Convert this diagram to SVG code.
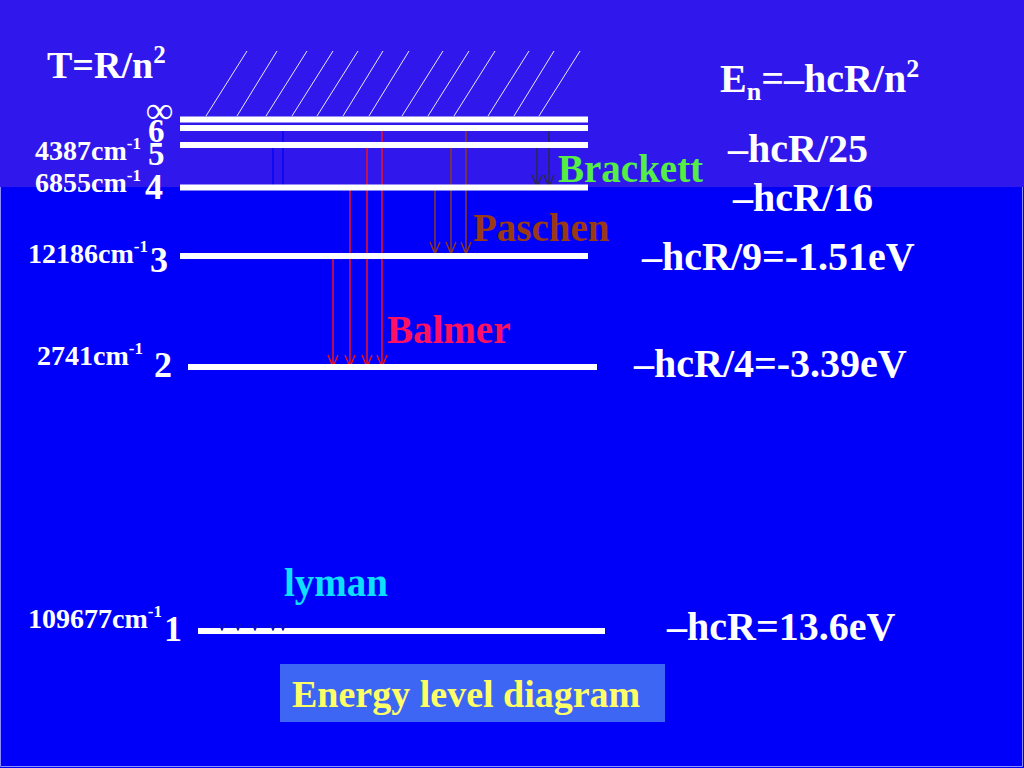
<svg xmlns="http://www.w3.org/2000/svg" width="1024" height="768" viewBox="0 0 1024 768">
<defs>
<style>
text{font-family:"Liberation Serif","Times New Roman",serif;font-weight:bold;}
.w{fill:#ffffff;}
.lv{stroke:#ffffff;stroke-width:6;}
.hatch{stroke:#e8e8ff;stroke-width:1;}
.big{font-size:36px;}
.cm{font-size:28px;}
.sup{font-size:17px;}
.rt{font-size:40px;}
.bal{stroke:#f01020;stroke-width:1.5;fill:none;}
.pas{stroke:#8b3a22;stroke-width:1.5;fill:none;}
.bra{stroke:#2a2844;stroke-width:1.5;fill:none;}
.lym{stroke:#0000fa;stroke-width:1.3;fill:none;}
</style>
<marker id="hBal" markerUnits="userSpaceOnUse" markerWidth="14" markerHeight="12" refX="13" refY="6" orient="auto"><path d="M1,1 L13,6 L1,11" stroke="#f01020" stroke-width="1.4" fill="none"/></marker>
<marker id="hPas" markerUnits="userSpaceOnUse" markerWidth="14" markerHeight="12" refX="13" refY="6" orient="auto"><path d="M1,1 L13,6 L1,11" stroke="#8b3a22" stroke-width="1.4" fill="none"/></marker>
<marker id="hBra" markerUnits="userSpaceOnUse" markerWidth="14" markerHeight="12" refX="13" refY="6" orient="auto"><path d="M1,1 L13,6 L1,11" stroke="#2a2844" stroke-width="1.4" fill="none"/></marker>
<marker id="hLym" markerUnits="userSpaceOnUse" markerWidth="8" markerHeight="8" refX="7" refY="4" orient="auto"><path d="M1,1 L7,4 L1,7" stroke="#1010c0" stroke-width="1.3" fill="none"/></marker>
</defs>

<!-- background -->
<rect x="0" y="0" width="1024" height="768" fill="#0000fa"/>
<rect x="0" y="0" width="1024" height="187" fill="#3018ec"/>
<path d="M0.5,187 V766.5 H1022.5 V187" fill="none" stroke="#8c8cff" stroke-width="1"/>

<!-- hatching above the continuum -->
<g id="continuum-hatch">
<line class="hatch" x1="206" y1="116" x2="247" y2="51"/>
<line class="hatch" x1="237" y1="116" x2="277" y2="51"/>
<line class="hatch" x1="266" y1="116" x2="307" y2="51"/>
<line class="hatch" x1="292" y1="116" x2="333" y2="51"/>
<line class="hatch" x1="317" y1="116" x2="358" y2="51"/>
<line class="hatch" x1="343" y1="116" x2="383" y2="51"/>
<line class="hatch" x1="369" y1="116" x2="409" y2="51"/>
<line class="hatch" x1="402" y1="116" x2="443" y2="51"/>
<line class="hatch" x1="428" y1="116" x2="469" y2="51"/>
<line class="hatch" x1="454" y1="116" x2="495" y2="51"/>
<line class="hatch" x1="488" y1="116" x2="529" y2="51"/>
<line class="hatch" x1="514" y1="116" x2="554" y2="51"/>
<line class="hatch" x1="539" y1="116" x2="580" y2="51"/>
</g>

<!-- level 1 drawn first so lyman arrow tips sit on it -->
<g id="level-1">
<line class="lv" x1="198" y1="631" x2="605" y2="631"/>
<text class="w cm" x="28" y="628">109677cm<tspan class="sup" dy="-11">-1</tspan></text>
<text class="w big" x="164" y="641">1</text>
<text class="w rt" x="667" y="640">–hcR=13.6eV</text>
</g>

<!-- connectors (transitions) -->
<g id="connectors">
<g id="lyman-series">
<line class="lym" x1="222" y1="367" x2="222" y2="630" marker-end="url(#hLym)"/>
<line class="lym" x1="238" y1="256" x2="238" y2="630" marker-end="url(#hLym)"/>
<line class="lym" x1="255" y1="187" x2="255" y2="630" marker-end="url(#hLym)"/>
<line class="lym" x1="273" y1="147" x2="273" y2="630" marker-end="url(#hLym)"/>
<line class="lym" x1="283" y1="131" x2="283" y2="630" marker-end="url(#hLym)"/>
</g>
<g id="balmer-series">
<line class="bal" x1="333" y1="259" x2="333" y2="367" marker-end="url(#hBal)"/>
<line class="bal" x1="350" y1="190" x2="350" y2="367" marker-end="url(#hBal)"/>
<line class="bal" x1="367" y1="148" x2="367" y2="367" marker-end="url(#hBal)"/>
<line class="bal" x1="382" y1="131" x2="382" y2="367" marker-end="url(#hBal)"/>
</g>
<g id="paschen-series">
<line class="pas" x1="435" y1="190" x2="435" y2="254" marker-end="url(#hPas)"/>
<line class="pas" x1="451" y1="145" x2="451" y2="254" marker-end="url(#hPas)"/>
<line class="pas" x1="466" y1="127" x2="466" y2="254" marker-end="url(#hPas)"/>
</g>
<g id="brackett-series">
<line class="bra" x1="537" y1="147" x2="537" y2="187" marker-end="url(#hBra)"/>
<line class="bra" x1="549" y1="126" x2="549" y2="187" marker-end="url(#hBra)"/>
</g>
</g>

<!-- energy levels -->
<g id="level-inf">
<line class="lv" x1="180" y1="119.5" x2="588" y2="119.5"/>
<text class="w" x="146" y="123" font-size="38">∞</text>
</g>
<g id="level-6">
<line class="lv" x1="180" y1="128" x2="588" y2="128"/>
<text class="w" x="148" y="142" font-size="33">6</text>
</g>
<g id="level-5">
<line class="lv" x1="180" y1="145" x2="588" y2="145"/>
<text class="w cm" x="35" y="160">4387cm<tspan class="sup" dy="-11">-1</tspan></text>
<text class="w" x="148" y="165" font-size="33">5</text>
<text class="w rt" x="728" y="162">–hcR/25</text>
</g>
<g id="level-4">
<line class="lv" x1="180" y1="187.5" x2="588" y2="187.5"/>
<text class="w cm" x="35" y="192">6855cm<tspan class="sup" dy="-11">-1</tspan></text>
<text class="w big" x="145" y="199">4</text>
<text class="w rt" x="733" y="211">–hcR/16</text>
</g>
<g id="level-3">
<line class="lv" x1="180" y1="256" x2="588" y2="256"/>
<text class="w cm" x="28" y="263">12186cm<tspan class="sup" dy="-11">-1</tspan></text>
<text class="w big" x="150" y="272">3</text>
<text class="w rt" x="642" y="270">–hcR/9=-1.51eV</text>
</g>
<g id="level-2">
<line class="lv" x1="188" y1="367" x2="597" y2="367"/>
<text class="w cm" x="37" y="365">2741cm<tspan class="sup" dy="-11">-1</tspan></text>
<text class="w big" x="154" y="377">2</text>
<text class="w rt" x="634" y="377">–hcR/4=-3.39eV</text>
</g>

<!-- series labels -->
<g id="labels">
<text x="558" y="182" font-size="39" fill="#55ee44">Brackett</text>
<text x="473" y="241" font-size="39" fill="#993a14">Paschen</text>
<text x="387" y="343" font-size="39" fill="#ff1060">Balmer</text>
<text x="284" y="596" font-size="39" fill="#10e0ff">lyman</text>
</g>

<!-- formulas -->
<g id="formula-T">
<text class="w" x="47" y="78" font-size="38">T=R/n<tspan font-size="25" dy="-15">2</tspan></text>
</g>
<g id="formula-E">
<text class="w rt" x="720" y="92">E<tspan font-size="26" dy="8">n</tspan><tspan dy="-8">=–hcR/n</tspan><tspan font-size="26" dy="-15">2</tspan></text>
</g>

<!-- title box -->
<g id="title">
<rect x="280" y="664" width="385" height="58" fill="#3d66f5"/>
<text x="292" y="707" font-size="38" fill="#ffff66">Energy level diagram</text>
</g>
</svg>
